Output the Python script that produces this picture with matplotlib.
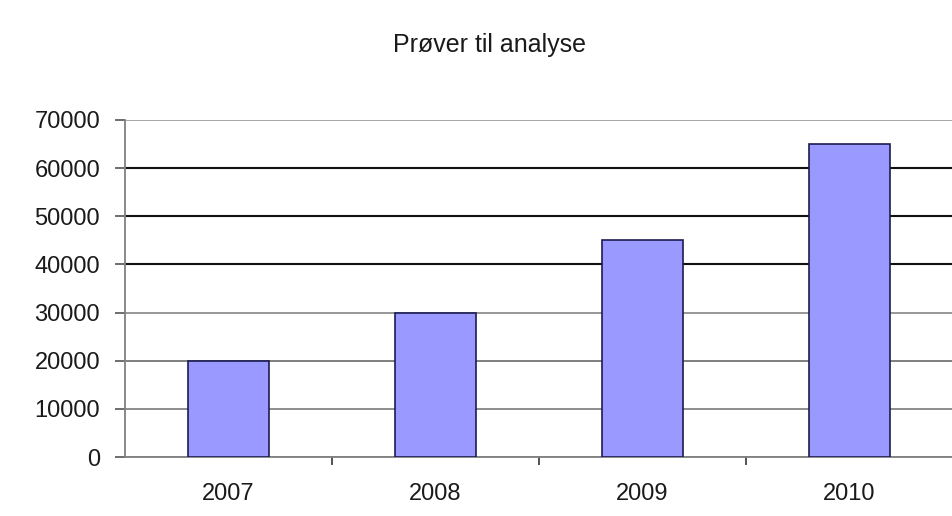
import matplotlib
matplotlib.use("Agg")
import matplotlib.pyplot as plt
from matplotlib.ticker import FixedLocator

categories = ["2007", "2008", "2009", "2010"]
values = [20000, 30000, 45000, 65000]
yticks = [0, 10000, 20000, 30000, 40000, 50000, 60000, 70000]
title = "Prøver til analyse"

plt.rcParams['font.family'] = ['Liberation Sans', 'DejaVu Sans']

fig = plt.figure(figsize=(9.52, 5.16), dpi=100)
ax = fig.add_axes([125/952, 1 - 457/516, 828/952, (457 - 120)/516])

x = list(range(len(categories)))
ax.bar(x, values, width=0.39, color="#9999FF", edgecolor="#1c1c50",
       linewidth=1.2, zorder=3)

ax.set_xlim(-0.5, len(categories) - 0.5)
ax.set_ylim(0, 70000)
ax.set_yticks(yticks)
ax.set_yticklabels([str(v) for v in yticks], fontsize=17, color="#1a1a1a")
ax.set_xticks(x)
ax.set_xticklabels(categories, fontsize=17, color="#1a1a1a")
ax.xaxis.set_minor_locator(FixedLocator([i + 0.5 for i in range(len(categories) - 1)]))

ax.tick_params(axis='y', length=7, width=1.2, color="#555555", pad=11)
ax.tick_params(axis='x', which='major', length=0, pad=19)
ax.tick_params(axis='x', which='minor', length=6, width=1.2, color="#333333")

ax.yaxis.grid(True, zorder=0)
grid_colors = ["#808080", "#7a7a7a", "#6a6a6a", "#858585", "#111111", "#111111", "#111111", "#9a9a9a"]
for gl, c in zip(ax.get_ygridlines(), grid_colors):
    gl.set_color(c)
    gl.set_linewidth(1.5 if c == "#111111" else 1.2)

for s in ["top", "right"]:
    ax.spines[s].set_visible(False)
ax.spines["left"].set_color("#808080")
ax.spines["left"].set_linewidth(1.3)
ax.spines["bottom"].set_color("#808080")
ax.spines["bottom"].set_linewidth(1.3)

fig.text(490/952, 1 - 45/516, title, ha="center", va="center", fontsize=18, color="#1a1a1a")

fig.savefig("out.png", dpi=100)
